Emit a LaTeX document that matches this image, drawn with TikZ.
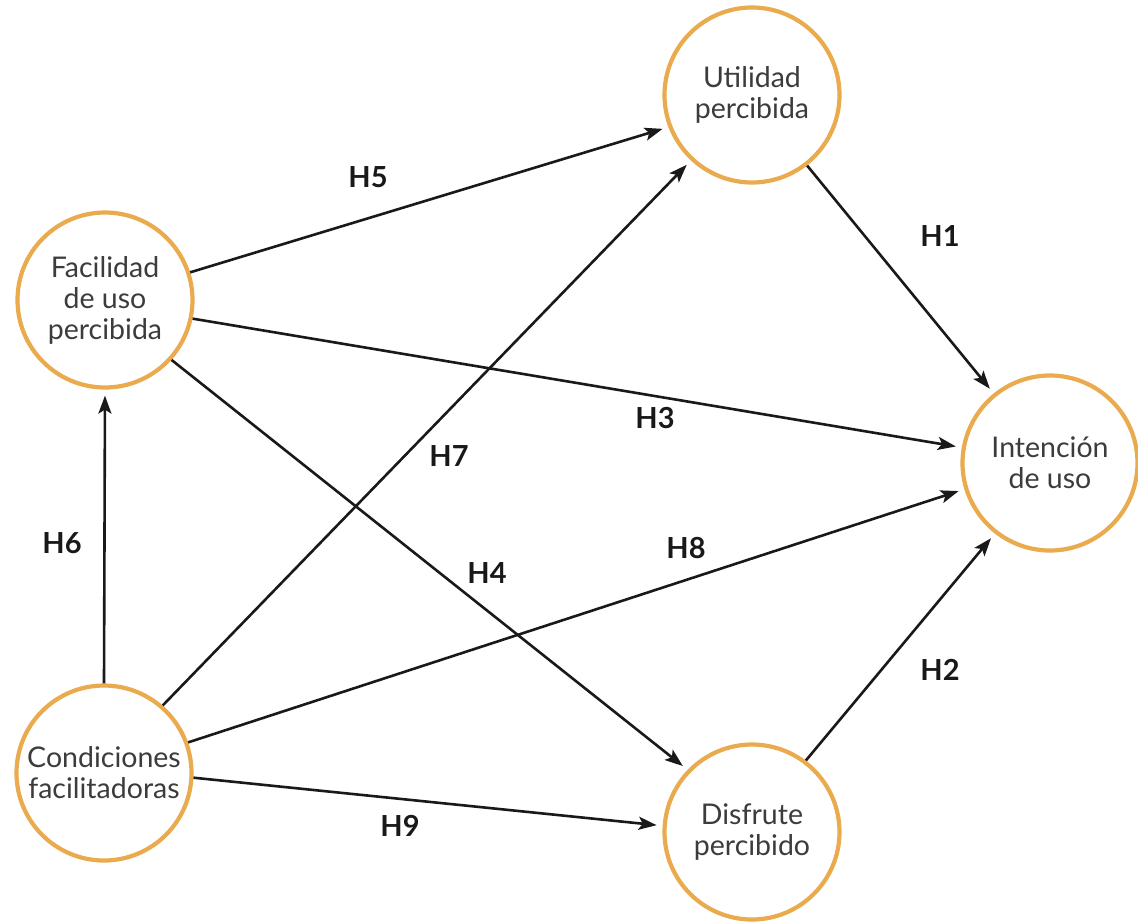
\documentclass[tikz,border=0pt]{standalone}
\usepackage{fontspec}
\setmainfont{Lato}
\usetikzlibrary{arrows.meta}
\definecolor{ring}{RGB}{233,171,78}
\definecolor{txt}{RGB}{60,60,60}
\definecolor{arr}{RGB}{25,25,25}
\tikzset{
  construct/.style={circle, draw=ring, line width=4.2pt, minimum size=175pt, inner sep=0pt,
    align=center, text=txt, font=\fontsize{28.5}{31}\selectfont, fill=white},
  hyp/.style={font=\bfseries\fontsize{29}{30}\selectfont, text=arr},
  link/.style={draw=arr, line width=2.6pt, -{Stealth[length=18pt,width=13pt,inset=4pt]}, shorten >=6pt}
}
\begin{document}
\begin{tikzpicture}[x=1pt,y=-1pt]
\useasboundingbox (0,0) rectangle (1138,922);
\node[construct] (F) at (105,300) {Facilidad\\de uso\\percibida};
\node[construct] (U) at (752,95) {Utilidad\\percibida};
\node[construct] (I) at (1050,463) {Intención\\de uso};
\node[construct] (C) at (104,773) {Condiciones\\facilitadoras};
\node[construct] (D) at (752,832) {Disfrute\\percibido};

\draw[link] (F.18) -- (U.201);
\draw[link] (F.-12) -- (I.170);
\draw[link] (F.-42) -- (D.136);
\draw[link] (C.49) -- (U.227);
\draw[link] (C.20) -- (I.197);
\draw[link] (C.-3) -- (D.176);
\draw[link] (C.90) -- (F.270);
\draw[link] (U.-52) -- (I.129);
\draw[link] (D.53) -- (I.232);

\node[hyp] (h5) at (368,177) {H5};
\node[hyp] (h1) at (940,236) {H1};
\node[hyp] (h3) at (655,418) {H3};
\node[hyp] (h7) at (449,456) {H7};
\node[hyp] (h6) at (62,543) {H6};
\node[hyp] (h8) at (686,548) {H8};
\node[hyp] (h4) at (487,573) {H4};
\node[hyp] (h2) at (940,670) {H2};
\node[hyp] (h9) at (400,826) {H9};
\end{tikzpicture}
\end{document}
